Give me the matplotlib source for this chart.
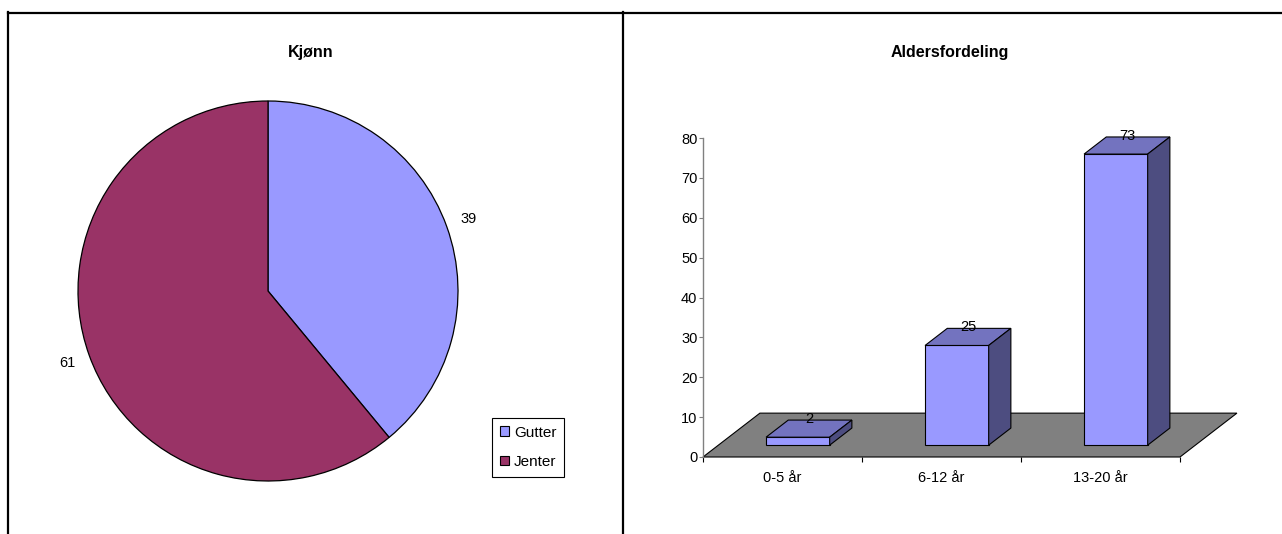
import matplotlib.pyplot as plt
from matplotlib.patches import Polygon
from matplotlib.lines import Line2D

plt.rcParams['font.family'] = ['Liberation Sans', 'DejaVu Sans']

# kjønn
kjonn_navn = ['Gutter', 'Jenter']
kjonn_antall = [39, 61]
kjonn_farger = ['#9999FF', '#993366']

# aldersfordeling
alder_navn = ['0-5 år', '6-12 år', '13-20 år']
alder_antall = [2, 25, 73]
y_ticks = list(range(0, 81, 10))

W, H = 1282, 534
fig = plt.figure(figsize=(W / 100, H / 100), dpi=100)


def boks(x0, y0, x1, y1):
    # pikselboks -> figurkoordinater
    return [x0 / W, 1 - y1 / H, (x1 - x0) / W, (y1 - y0) / H]


# rammer rundt de to cellene
bg = fig.add_axes([0, 0, 1, 1])
bg.set_xlim(0, W)
bg.set_ylim(H, 0)
bg.axis('off')
for xs, ys in [([7.5, W], [12.5, 12.5]), ([7.5, 7.5], [12, H]), ([623, 623], [12, H])]:
    bg.add_line(Line2D(xs, ys, color='black', lw=1.6))

fig.text(311 / W, 1 - 52 / H, 'Kjønn', ha='center', va='center',
         fontsize=11.5, fontweight='bold')
fig.text(950 / W, 1 - 52 / H, 'Aldersfordeling', ha='center', va='center',
         fontsize=11.5, fontweight='bold')

# kakediagram
ax1 = fig.add_axes(boks(78, 101, 458, 481))
total = sum(kjonn_antall)
wedges, _, tall = ax1.pie(kjonn_antall, colors=kjonn_farger, startangle=90,
                          counterclock=False, radius=1,
                          autopct=lambda p: '%d' % round(p * total / 100),
                          pctdistance=1.12,
                          wedgeprops=dict(edgecolor='black', linewidth=0.9))
for t in tall:
    t.set_fontsize(10.5)
ax1.set_xlim(-1, 1)
ax1.set_ylim(-1, 1)
ax1.set_aspect('equal')

fig.legend(wedges, kjonn_navn, loc='upper left',
           bbox_to_anchor=(492 / W, 1 - 418 / H), fontsize=11,
           fancybox=False, edgecolor='black', framealpha=1,
           handlelength=0.6, handleheight=0.6, handletextpad=0.35,
           labelspacing=1.0, borderpad=0.5, borderaxespad=0)
fig.legends[0].get_frame().set_linewidth(0.8)
for h in fig.legends[0].legend_handles:
    h.set_edgecolor('black')
    h.set_linewidth(0.8)

# søylediagram med 3D-effekt
ax2 = fig.add_axes(boks(703, 138, 1180, 457))
ax2.set_xlim(0, 3)
ax2.set_ylim(0, 80)

dyp_x, dyp_y = 0.358, 11.0      # gulvets dybde i dataenheter
fram, bak = 0.27, 0.66          # søylenes plassering i dybden
bredde = 0.40

gulv = Polygon([(0, 0), (3, 0), (3 + dyp_x, dyp_y), (dyp_x, dyp_y)],
               closed=True, facecolor='#808080', edgecolor='black',
               lw=0.8, clip_on=False, zorder=1)
ax2.add_patch(gulv)

ox, oy = fram * dyp_x, fram * dyp_y
dx, dy = (bak - fram) * dyp_x, (bak - fram) * dyp_y
for i, v in enumerate(alder_antall):
    x0 = i + 0.5 - bredde / 2 + ox
    x1 = x0 + bredde
    y0 = oy
    y1 = oy + v
    front = [(x0, y0), (x1, y0), (x1, y1), (x0, y1)]
    topp = [(x0, y1), (x1, y1), (x1 + dx, y1 + dy), (x0 + dx, y1 + dy)]
    side = [(x1, y0), (x1 + dx, y0 + dy), (x1 + dx, y1 + dy), (x1, y1)]
    for pts, c in [(front, '#9999FF'), (topp, '#7373BF'), (side, '#4D4D80')]:
        ax2.add_patch(Polygon(pts, closed=True, facecolor=c, edgecolor='black',
                              lw=0.8, clip_on=False, zorder=2))
    ax2.text(i + 0.5 + ox + dx / 2, y1 + dy + 0.3, str(v), ha='center',
             va='center', fontsize=10.5, zorder=3)

for s in ['top', 'right', 'bottom']:
    ax2.spines[s].set_visible(False)
ax2.spines['left'].set_color('#808080')
ax2.spines['left'].set_linewidth(1.0)
ax2.set_yticks(y_ticks)
ax2.tick_params(axis='y', colors='#808080', labelcolor='black',
                labelsize=10.5, length=3, width=0.8, pad=1)
ax2.set_xticks([0, 1, 2, 3])
ax2.set_xticklabels([])
ax2.tick_params(axis='x', which='major', length=3.5, width=0.8, color='black')
ax2.set_xticks([0.5, 1.5, 2.5], minor=True)
ax2.set_xticklabels(alder_navn, minor=True)
ax2.tick_params(axis='x', which='minor', length=0, labelsize=10.5, pad=10)
ax2.patch.set_alpha(0)

fig.savefig('out.png', dpi=100)
